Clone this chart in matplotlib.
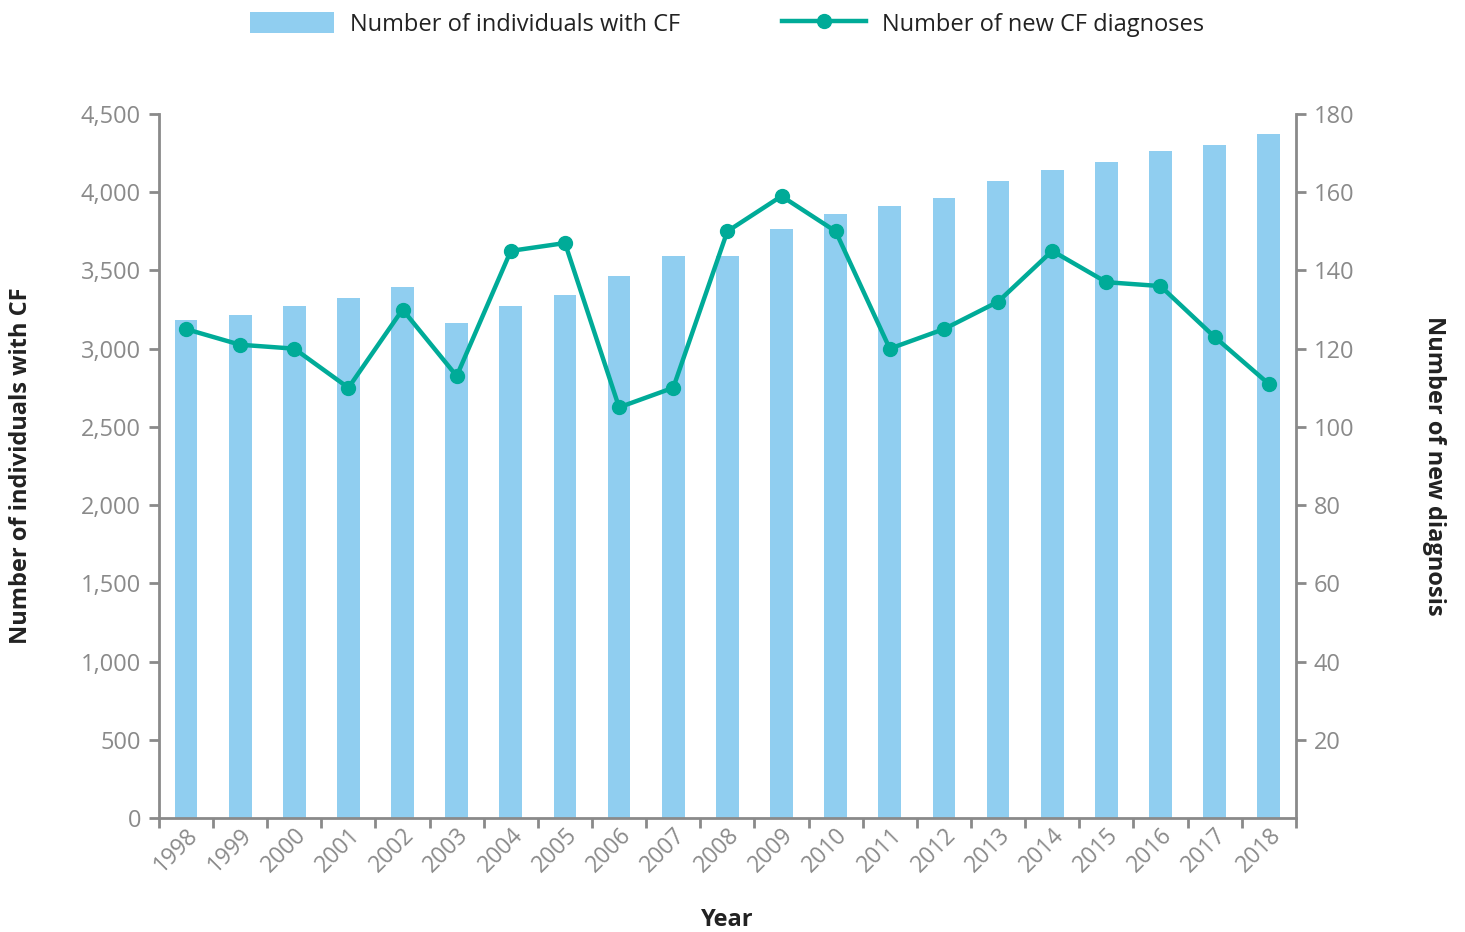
import matplotlib.pyplot as plt
import numpy as np
from matplotlib.ticker import FuncFormatter, FixedLocator

plt.rcParams['font.family'] = ['Open Sans', 'DejaVu Sans']

years = ['1998', '1999', '2000', '2001', '2002', '2003', '2004', '2005', '2006', '2007',
         '2008', '2009', '2010', '2011', '2012', '2013', '2014', '2015', '2016', '2017', '2018']
individuals = [3180, 3215, 3270, 3325, 3395, 3165, 3270, 3345, 3465, 3590,
               3590, 3765, 3860, 3910, 3960, 4070, 4140, 4195, 4265, 4300, 4375]
new_diagnoses = [125, 121, 120, 110, 130, 113, 145, 147, 105, 110,
                 150, 159, 150, 120, 125, 132, 145, 137, 136, 123, 111]

bar_color = '#90CEF0'
line_color = '#00AB98'
axis_gray = '#8A8A8A'
text_dark = '#222222'

fig = plt.figure(figsize=(14.65, 9.32), dpi=100)
ax = fig.add_axes([0.1085, 0.1223, 0.776, 0.7554])
ax2 = ax.twinx()

x = np.arange(len(years))
bars = ax.bar(x, individuals, width=0.42, color=bar_color, zorder=1)
line, = ax2.plot(x, new_diagnoses, color=line_color, linewidth=3.2,
                 marker='o', markersize=10, zorder=3)

ax.set_xlim(-0.5, len(years) - 0.5)
ax.set_ylim(0, 4500)
ax2.set_ylim(0, 180)

# x ticks at category boundaries, labels at centres
ax.xaxis.set_major_locator(FixedLocator(np.arange(-0.5, len(years), 1.0)))
ax.xaxis.set_major_formatter(FuncFormatter(lambda v, p: ''))
ax.xaxis.set_minor_locator(FixedLocator(x))
ax.set_xticklabels(years, minor=True)
ax.tick_params(axis='x', which='major', length=7, width=2, color=axis_gray, direction='out')
ax.tick_params(axis='x', which='minor', length=0, pad=4, labelsize=16.5, labelcolor=axis_gray)
for lbl in ax.get_xticklabels(minor=True):
    lbl.set_rotation(45)
    lbl.set_ha('right')
    lbl.set_va('top')
    lbl.set_rotation_mode('anchor')

ax.set_yticks(np.arange(0, 4501, 500))
ax.yaxis.set_major_formatter(FuncFormatter(lambda v, p: f'{int(v):,}'))
ax.tick_params(axis='y', length=7, width=2, color=axis_gray, labelsize=17,
               labelcolor=axis_gray, pad=6)

ax2.set_yticks(np.arange(20, 181, 20))
ax2.tick_params(axis='y', length=7, width=2, color=axis_gray, labelsize=17,
                labelcolor=axis_gray, pad=6)

for a in (ax, ax2):
    a.spines['top'].set_visible(False)
    for s in ('left', 'right', 'bottom'):
        a.spines[s].set_color(axis_gray)
        a.spines[s].set_linewidth(2)
ax.spines['right'].set_visible(False)
ax2.spines['left'].set_visible(False)
ax2.spines['bottom'].set_visible(False)

ax.set_ylabel('Number of individuals with CF', fontsize=17, fontweight='bold',
              color=text_dark, labelpad=34)
ax2.set_ylabel('Number of new diagnosis', fontsize=17, fontweight='bold',
               color=text_dark, rotation=-90, labelpad=66)
ax.set_xlabel('Year', fontsize=17, fontweight='bold', color=text_dark, labelpad=22)

fig.legend([bars, line], ['Number of individuals with CF', 'Number of new CF diagnoses'],
           loc='upper center', bbox_to_anchor=(0.4965, 1.01), ncol=2, frameon=False,
           fontsize=17, handlelength=3.55, handleheight=1.0, columnspacing=4.3,
           handletextpad=0.7, labelcolor=text_dark)

fig.savefig('out.png', dpi=100)
